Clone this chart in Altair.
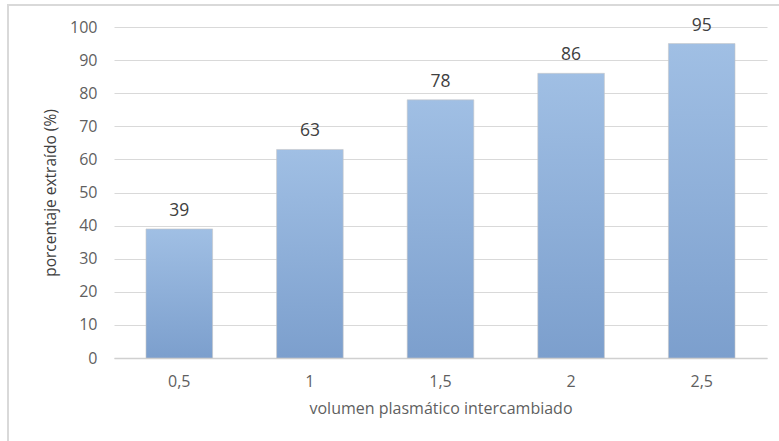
import altair as alt
import pandas as pd

categorias = ["0,5", "1", "1,5", "2", "2,5"]
valores = [39, 63, 78, 86, 95]
y_ticks = [0, 10, 20, 30, 40, 50, 60, 70, 80, 90, 100]

df = pd.DataFrame({"vol": categorias, "pct": valores})

FONT = "Open Sans"
TXT = "#5f5f5f"

x_enc = alt.X(
    "vol:N",
    sort=categorias,
    scale=alt.Scale(paddingInner=0.49, paddingOuter=0.245),
    axis=alt.Axis(
        title="volumen plasmático intercambiado",
        labelAngle=0,
        labelFontSize=16,
        labelColor=TXT,
        labelFont=FONT,
        labelPadding=15,
        ticks=False,
        domainColor="#d0d0d0",
        domainWidth=1.5,
        titleFont=FONT,
        titleFontSize=16,
        titleFontWeight="normal",
        titleColor=TXT,
        titlePadding=11,
    ),
)
y_enc = alt.Y(
    "pct:Q",
    scale=alt.Scale(domain=[0, 100], nice=False),
    axis=alt.Axis(
        title="porcentaje extraído (%)",
        values=y_ticks,
        labelOverlap=False,
        labelFontSize=16,
        labelColor=TXT,
        labelFont=FONT,
        labelPadding=17,
        ticks=False,
        domain=False,
        gridColor="#d9d9d9",
        titleFont=FONT,
        titleFontSize=15.5,
        titleFontWeight="normal",
        titleColor="#404040",
        titlePadding=11,
    ),
)

border = alt.Chart(df).mark_rect(
    fill=None, stroke="#d9d9d9", strokeWidth=1.5
).encode(
    x=alt.value(-106), x2=alt.value(720),
    y=alt.value(-22), y2=alt.value(460),
)

bars = alt.Chart(df).mark_bar(
    color=alt.Gradient(
        gradient="linear",
        stops=[
            alt.GradientStop(color="#a0bfe4", offset=0),
            alt.GradientStop(color="#7c9fcd", offset=1),
        ],
        x1=0, x2=0, y1=0, y2=1,
    ),
    stroke="#c8c8c8",
    strokeWidth=0.6,
).encode(x=x_enc, y=y_enc)

labels = alt.Chart(df).mark_text(
    baseline="alphabetic", dy=-13, fontSize=17.5, font=FONT, color="#404040"
).encode(x=x_enc, y=y_enc, text="pct:Q")

chart = alt.layer(border, bars, labels).properties(
    width=653,
    height=331,
    autosize=alt.AutoSizeParams(type="none"),
    padding={"left": 114, "top": 27, "right": 12, "bottom": 83},
    background="white",
).configure_view(stroke=None)

chart.save("out.html", embed_options={"renderer": "svg", "actions": False})
